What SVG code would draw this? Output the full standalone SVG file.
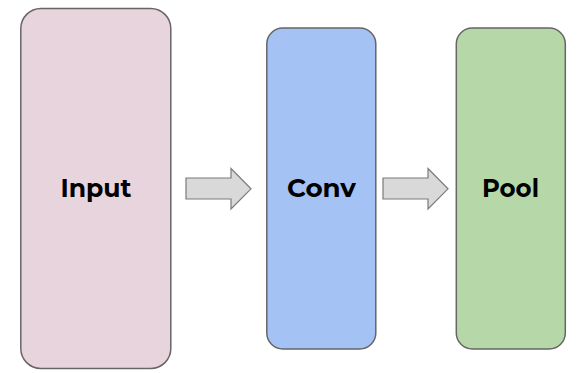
<svg xmlns="http://www.w3.org/2000/svg" width="586" height="373" viewBox="0 0 586 373">
<style>
.box{stroke:#666666;stroke-width:1.5}
.lbl{font-family:"Montserrat","Open Sans","Liberation Sans",sans-serif;font-weight:700;font-size:26px;fill:#000;text-anchor:middle}
.arr{fill:#d9d9d9;stroke:#7a7a7a;stroke-width:1.2;stroke-linejoin:miter}
</style>
<rect width="586" height="373" fill="#ffffff"/>
<g id="input">
<rect class="box" x="20.8" y="8.5" width="150" height="360" rx="20" fill="#e8d4dc"/>
<text class="lbl" x="96" y="197" textLength="71" lengthAdjust="spacingAndGlyphs">Input</text>
</g>
<g id="conv">
<rect class="box" x="266.8" y="28" width="109" height="321" rx="16" fill="#a4c2f4"/>
<text class="lbl" x="321.5" y="197" textLength="69" lengthAdjust="spacingAndGlyphs">Conv</text>
</g>
<g id="pool">
<rect class="box" x="456.3" y="28" width="109" height="321" rx="16" fill="#b6d7a8"/>
<text class="lbl" x="510.5" y="197" textLength="57" lengthAdjust="spacingAndGlyphs">Pool</text>
</g>
<g id="connectors">
<polygon class="arr" points="186,178 231,178 231,168.5 251,188.8 231,209 231,199 186,199"/>
<polygon class="arr" points="383,178 428,178 428,168.5 448,188.8 428,209 428,199 383,199"/>
</g>
</svg>
